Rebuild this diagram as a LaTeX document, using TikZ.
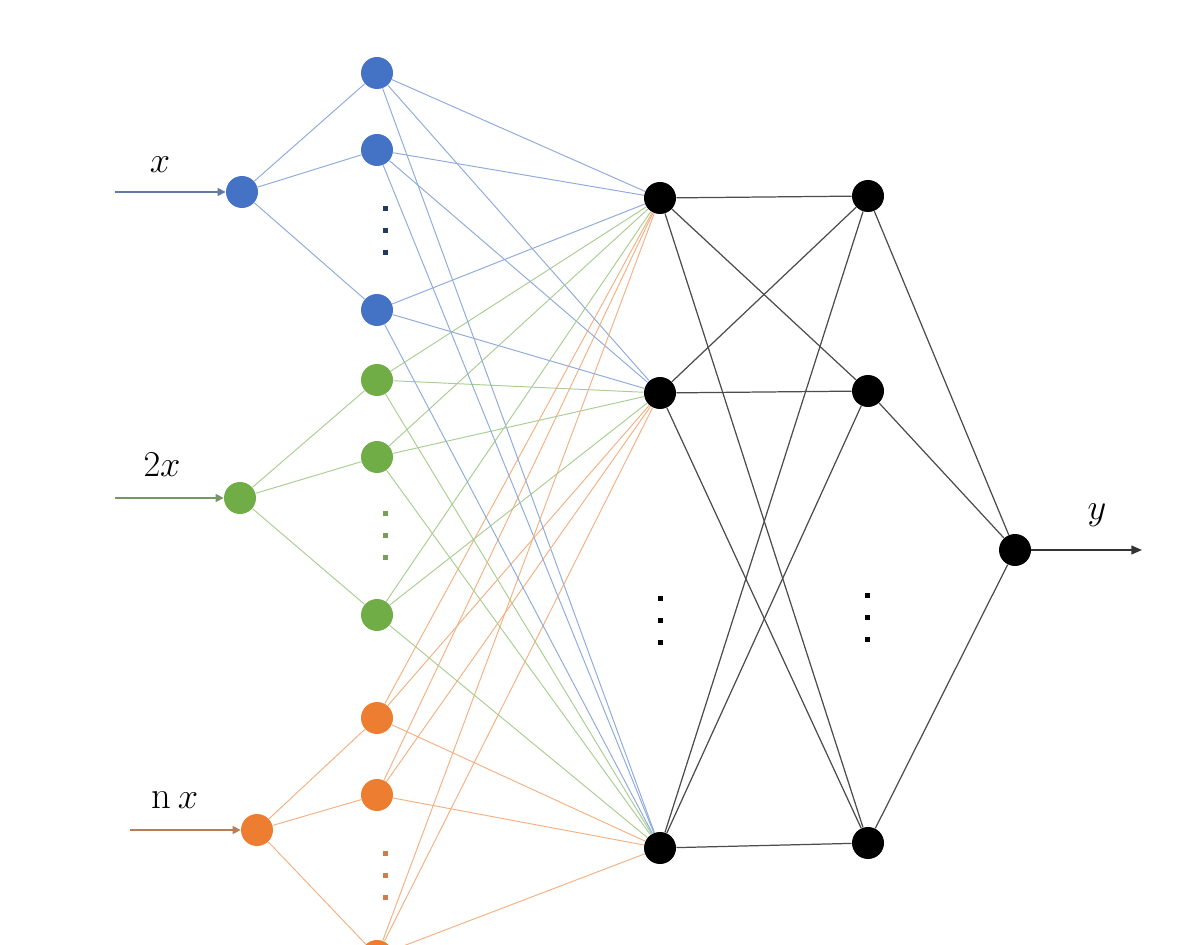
\documentclass[tikz,border=0pt]{standalone}
\usetikzlibrary{arrows.meta}
\definecolor{nnblue}{HTML}{4472C4}
\definecolor{nngreen}{HTML}{70AD47}
\definecolor{nnorange}{HTML}{ED7D31}
\tikzset{
  neuron/.style={circle, fill=#1, inner sep=0pt, minimum size=0.64cm},
  vdot/.style={rectangle, fill=#1, inner sep=0pt, minimum size=0.1cm},
  link/.style={#1!60, line width=0.55pt},
  feed/.style={#1!50!gray, line width=0.6pt, -{Triangle[length=4.5pt,width=4.5pt]}},
  lbl/.style={font=\fontsize{22}{26}\selectfont}
}
\begin{document}
\begin{tikzpicture}[x=0.02cm,y=-0.02cm]
\useasboundingbox (0,0) rectangle (1203,945);
\clip (0,0) rectangle (1203,945);

% input neurons
\node[neuron=nnblue] (inA) at (242,192) {};
\node[neuron=nngreen] (inB) at (240,498) {};
\node[neuron=nnorange] (inC) at (257,830) {};
\coordinate (srcA) at (115,192);
\coordinate (srcB) at (115,498);
\coordinate (srcC) at (130,830);
\node[lbl] (labA) at (160,165) {$x$};
\node[lbl] (labB) at (162,465) {$2x$};
\node[lbl] (labC) at (175,800) {n\,$x$};

% first hidden layer, one group per input
\node[neuron=nnblue] (hA1) at (377,73) {};
\node[neuron=nnblue] (hA2) at (377,150) {};
\node[neuron=nnblue] (hA3) at (377,310) {};
\node[neuron=nngreen] (hB1) at (377,380) {};
\node[neuron=nngreen] (hB2) at (377,457) {};
\node[neuron=nngreen] (hB3) at (377,615) {};
\node[neuron=nnorange] (hC1) at (377,718) {};
\node[neuron=nnorange] (hC2) at (377,795) {};
\node[neuron=nnorange] (hC3) at (377,956) {};
\foreach \k in {1,2,3} {
  \node[vdot=nnblue!50!black] (dA\k) at (385,187+22*\k) {};
  \node[vdot=nngreen!70!gray] (dB\k) at (385,491+22*\k) {};
  \node[vdot=nnorange!70!gray] (dC\k) at (385,831+22*\k) {};
}

% black layers
\node[neuron=black] (pA) at (660,198) {};
\node[neuron=black] (pB) at (660,393) {};
\node[neuron=black] (pC) at (660,848) {};
\node[neuron=black] (qA) at (868,196) {};
\node[neuron=black] (qB) at (868,391) {};
\node[neuron=black] (qC) at (868,843) {};
\foreach \k in {1,2,3} {
  \node[vdot=black] (dP\k) at (660,576+22*\k) {};
  \node[vdot=black] (dQ\k) at (867,573+22*\k) {};
}
\node[neuron=black] (out) at (1015,550) {};
\coordinate (sink) at (1142,550);
\node[lbl] (labY) at (1097,515) {$y$};

% connections
\draw[feed=nnblue] (srcA) -- (inA);
\draw[feed=nngreen] (srcB) -- (inB);
\draw[feed=nnorange] (srcC) -- (inC);
\foreach \i in {1,2,3} {
  \draw[link=nnblue] (inA) -- (hA\i);
  \draw[link=nngreen] (inB) -- (hB\i);
  \draw[link=nnorange] (inC) -- (hC\i);
  \foreach \j in {A,B,C} {
    \draw[link=nnblue] (hA\i) -- (p\j);
    \draw[link=nngreen] (hB\i) -- (p\j);
    \draw[link=nnorange] (hC\i) -- (p\j);
  }
}
\foreach \i in {A,B,C} {
  \foreach \j in {A,B,C}
    \draw[black!70, line width=0.7pt] (p\i) -- (q\j);
  \draw[black!70, line width=0.7pt] (q\i) -- (out);
}
\draw[black!80, line width=0.8pt, -{Triangle[length=6pt,width=5pt]}] (out) -- (sink);
\end{tikzpicture}
\end{document}
